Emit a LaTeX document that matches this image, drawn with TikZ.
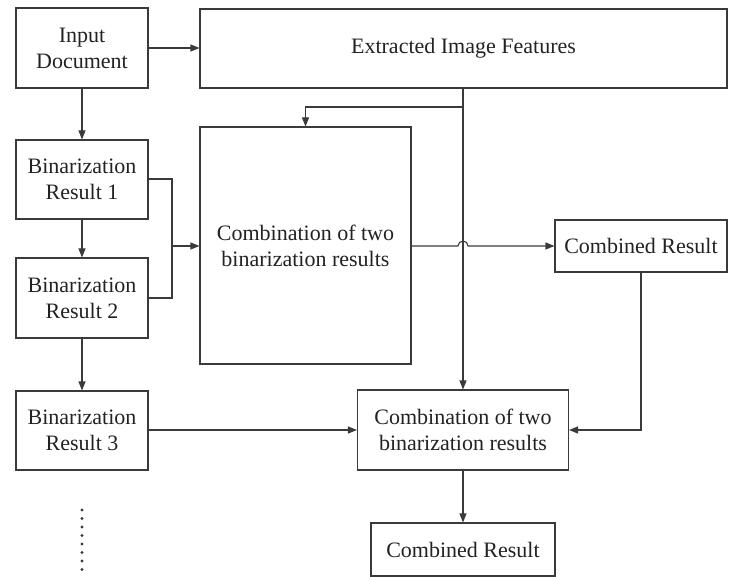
\documentclass[tikz,border=0pt]{standalone}
\usepackage{fontspec}
\setmainfont{Liberation Serif}
\usetikzlibrary{arrows.meta}
\definecolor{ln}{HTML}{3A3A3A}
\definecolor{tx}{HTML}{222222}
\begin{document}
\begin{tikzpicture}[x=1pt,y=-1pt,
  box/.style={draw=ln, line width=1.1pt, inner sep=0pt, align=center, text=tx,
    font=\fontsize{22}{26}\selectfont},
  conn/.style={draw=ln, line width=1.1pt},
  arr/.style={conn, -{Triangle[length=9pt,width=7pt]}}]
\useasboundingbox (0,0) rectangle (747,577);
\node[box, minimum width=132pt, minimum height=80pt] (in) at (82,48) {Input\\Document};
\node[box, minimum width=527pt, minimum height=79pt] (ext) at (463.5,48.5) {Extracted Image Features};
\node[box, minimum width=132pt, minimum height=79pt] (b1) at (82,179.5) {Binarization\\Result 1};
\node[box, minimum width=132pt, minimum height=80pt] (b2) at (82,298) {Binarization\\Result 2};
\node[box, minimum width=132pt, minimum height=79pt] (b3) at (82,430.5) {Binarization\\Result 3};
\node[box, minimum width=211pt, minimum height=237pt] (c1) at (305.5,245.5) {Combination of two\\binarization results};
\node[box, minimum width=172pt, minimum height=52pt] (r1) at (641,246) {Combined Result};
\node[box, minimum width=211pt, minimum height=80pt] (c2) at (463,430) {Combination of two\\binarization results};
\node[box, minimum width=184pt, minimum height=53pt] (r2) at (463,549.5) {Combined Result};
\coordinate (F) at (463,88);
\coordinate (B) at (463,107);
\coordinate (J) at (172,246);
\coordinate (K) at (458,246);
\draw[arr] (in.east) -- (ext.west |- in.east);
\draw[arr] (in) -- (b1);
\draw[arr] (b1) -- (b2);
\draw[arr] (b2) -- (b3);
\draw[conn] (b1.east |- 0,179) -| (J);
\draw[conn] (b2.east) -| (J);
\draw[arr] (J) -- (c1.west |- J);
\draw[arr] (ext.south -| F) -- (c2.north);
\draw[arr] (B) -| (c1.north);
\draw[arr] (c1.east |- K) -- (K) arc[start angle=180,end angle=0,radius=5pt] -- (r1.west);
\draw[arr] (r1.south) |- (c2.east);
\draw[arr] (b3.east |- c2.west) -- (c2.west);
\draw[arr] (c2.south) -- (r2.north);
\foreach \i in {0,...,7} \fill[ln] (82,510+8.5*\i) circle[radius=1.6pt];
\end{tikzpicture}
\end{document}
